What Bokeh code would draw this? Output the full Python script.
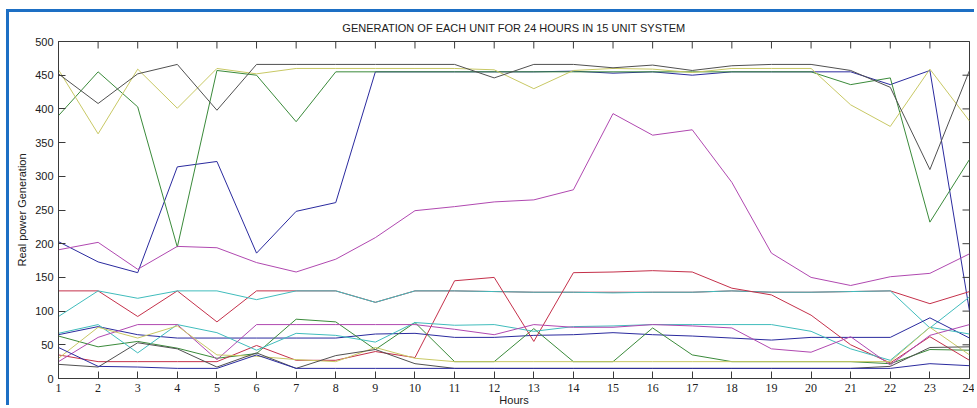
import math

from bokeh.plotting import figure
from bokeh.models import Range1d, FixedTicker
from bokeh.embed import file_html
from bokeh.resources import INLINE

# Hourly schedule (MW) of each generating unit over 24 hours
hours = list(range(1, 25))

unit01 = [203, 173, 157, 314, 322, 186, 248, 261, 455, 455, 455, 455, 455, 456, 453, 455, 450, 455, 455, 455, 455, 436, 457, 100]
unit02 = [390, 455, 403, 195, 457, 450, 381, 455, 455, 455, 455, 455, 455, 455, 455, 455, 455, 455, 455, 455, 436, 446, 232, 325]
unit03 = [130, 130, 92, 130, 84, 130, 130, 130, 113, 130, 130, 129, 128, 128, 128, 128, 128, 130, 128, 128, 129, 130, 111, 129]
unit04 = [92, 130, 119, 130, 130, 117, 130, 130, 113, 130, 130, 129, 128, 128, 127, 128, 128, 130, 128, 128, 129, 130, 75, 121]
unit05 = [191, 202, 162, 196, 194, 172, 158, 177, 209, 249, 255, 262, 265, 280, 393, 361, 369, 291, 186, 150, 138, 151, 156, 185]
unit06 = [458, 363, 459, 401, 460, 452, 460, 460, 460, 460, 460, 458, 430, 457, 460, 459, 454, 460, 460, 460, 406, 374, 459, 382]
unit07 = [452, 408, 452, 466, 398, 466, 466, 466, 466, 466, 466, 446, 466, 466, 461, 465, 457, 464, 466, 466, 457, 432, 310, 457]
unit08 = [65, 77, 65, 60, 60, 60, 60, 60, 66, 67, 61, 61, 64, 65, 68, 65, 63, 60, 57, 61, 61, 61, 90, 60]
unit09 = [63, 47, 55, 45, 30, 37, 88, 84, 43, 83, 25, 25, 74, 25, 25, 75, 35, 25, 25, 25, 25, 22, 43, 42]
unit10 = [35, 25, 25, 25, 25, 49, 27, 27, 40, 31, 145, 150, 55, 157, 158, 160, 158, 134, 124, 94, 50, 23, 62, 27]
unit11 = [67, 80, 38, 80, 68, 42, 67, 64, 54, 83, 79, 80, 70, 77, 78, 80, 80, 80, 80, 70, 44, 27, 76, 66]
unit12 = [25, 61, 80, 80, 28, 80, 80, 80, 80, 80, 73, 65, 80, 76, 76, 80, 78, 75, 44, 39, 62, 20, 64, 80]
unit13 = [30, 76, 60, 78, 35, 33, 28, 25, 46, 30, 25, 25, 25, 25, 25, 25, 25, 25, 25, 25, 25, 25, 76, 35]
unit14 = [21, 17, 53, 44, 17, 38, 15, 34, 43, 22, 15, 15, 15, 15, 15, 15, 15, 15, 15, 15, 15, 18, 46, 47]
unit15 = [46, 18, 17, 15, 15, 35, 15, 15, 15, 15, 15, 15, 15, 15, 15, 15, 15, 15, 15, 15, 15, 15, 22, 19]

units = [unit01, unit02, unit03, unit04, unit05, unit06, unit07, unit08,
         unit09, unit10, unit11, unit12, unit13, unit14, unit15]

# Classic colour cycle: blue, green, red, cyan, magenta, yellow, dark grey
cycle = ["#2a2a9e", "#3a8a3a", "#c4304a", "#40bcbc", "#b048b0", "#c8c864", "#505050"]

y_ticks = list(range(0, 501, 50))
x_lo, x_hi = 1, 24
y_lo, y_hi = 0, 500

frame_col = "#3a3a3a"
text_col = "#202020"

p = figure(width=968, height=396, output_backend="svg", toolbar_location=None,
           x_range=Range1d(x_lo, x_hi), y_range=Range1d(y_lo, y_hi),
           min_border_left=49, min_border_right=8, min_border_top=29, min_border_bottom=30,
           title="GENERATION OF EACH UNIT FOR 24 HOURS IN 15 UNIT SYSTEM")

# Page frame around the figure
p.styles = {"margin-left": "6px", "margin-top": "9px",
            "border-top": "3px solid #1d6fc4", "border-left": "3px solid #1d6fc4"}

p.background_fill_color = "white"
p.border_fill_color = "white"
p.outline_line_color = frame_col
p.xgrid.visible = False
p.ygrid.visible = False

p.title.align = "center"
p.title.text_font = "Liberation Sans"
p.title.text_font_size = "11px"
p.title.text_font_style = "normal"
p.title.text_color = text_col
p.title.standoff = 15

for i, vals in enumerate(units):
    p.line(hours, vals, line_color=cycle[i % len(cycle)], line_width=1)

xa = p.xaxis[0]
xa.ticker = FixedTicker(ticks=hours)
xa.major_tick_in = 7
xa.major_tick_out = 0
xa.minor_tick_line_color = None
xa.axis_line_color = frame_col
xa.major_tick_line_color = frame_col
xa.major_label_text_font = "Liberation Serif"
xa.major_label_text_font_size = "12px"
xa.major_label_text_color = text_col
xa.major_label_standoff = 5
xa.axis_label = "Hours"
xa.axis_label_text_font = "Liberation Sans"
xa.axis_label_text_font_size = "11px"
xa.axis_label_text_font_style = "normal"
xa.axis_label_text_color = text_col
xa.axis_label_standoff = -1

ya = p.yaxis[0]
ya.ticker = FixedTicker(ticks=y_ticks)
ya.major_tick_in = 7
ya.major_tick_out = 0
ya.minor_tick_line_color = None
ya.axis_line_color = frame_col
ya.major_tick_line_color = frame_col
ya.major_label_text_font = "Liberation Sans"
ya.major_label_text_font_size = "11px"
ya.major_label_text_color = text_col
ya.major_label_standoff = 5
ya.axis_label = "Real power Generation"
ya.axis_label_text_font = "Liberation Sans"
ya.axis_label_text_font_size = "11px"
ya.axis_label_text_font_style = "normal"
ya.axis_label_text_color = text_col
ya.axis_label_standoff = 4

# Inward tick marks on the top and right edges (half of each dash is clipped by the frame)
p.scatter(hours, [y_hi] * len(hours), marker="dash", size=14, angle=math.pi / 2,
          line_color=frame_col, line_width=1)
p.scatter([x_hi] * len(y_ticks), y_ticks, marker="dash", size=14,
          line_color=frame_col, line_width=1)

open("out.html", "w").write(file_html(p, INLINE))
